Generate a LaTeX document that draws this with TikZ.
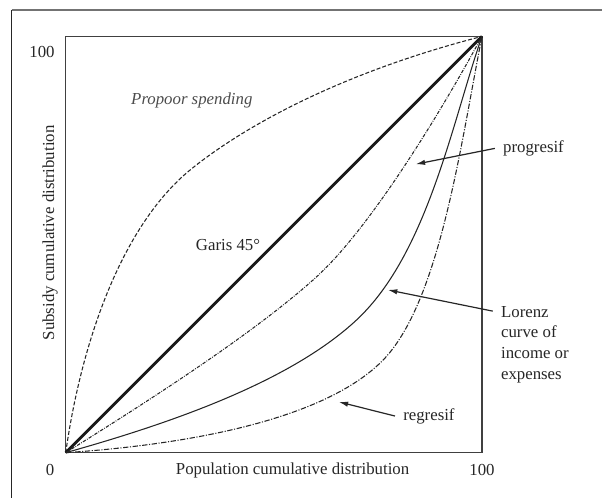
\documentclass[tikz,border=0pt]{standalone}
\usepackage{fontspec}
\setmainfont{Liberation Serif}
\usetikzlibrary{arrows.meta,positioning}

\tikzset{
  lbl/.style={font=\fontsize{12.6}{15.5}\selectfont, text=black!85},
  side/.style={lbl, inner sep=6pt, anchor=west},
  pointer/.style={-{Latex[length=7pt,width=4pt]}, line width=0.9pt, black!85},
  curve/.style={line width=0.8pt, black!85},
}

\begin{document}
\begin{tikzpicture}[x=3.122pt,y=3.122pt]
    \useasboundingbox (-15.78,-10.88) rectangle (128.83,108.74);

    %% frame
    \draw[line width=1pt, black!55] (-12.97,106.34) -- (128.83,106.34);
    \draw[line width=1pt, black!85] (-12.97,-10.88) -- (-12.97,106.34);

    %% box
    \draw[line width=1pt, black!75] (0,0) rectangle (100,100);

    %% curves
    \draw[curve, dash pattern=on 3pt off 1.5pt] (0,0)
        .. controls (4,28) and (14,55) .. (30,68)
        .. controls (42,77.75) and (65,91) .. (100,100);
    \draw[line width=2.2pt, black!90] (0,0) -- (100,100);
    \draw[curve, dash pattern=on 2.5pt off 1pt on 0.6pt off 1pt] (0,0)
        .. controls (20,12.5) and (45,28.5) .. (60,42)
        .. controls (72,52.8) and (88,78) .. (100,100);
    \draw[curve] (0,0)
        .. controls (25,7) and (54,17) .. (70,32)
        .. controls (87,48) and (93,80) .. (100,100);
    \draw[curve, dash pattern=on 4pt off 1.2pt on 0.8pt off 1.2pt] (0,0)
        .. controls (30,2) and (62,8) .. (76,22)
        .. controls (90,36) and (95,75) .. (100,100);

    %% axis labels
    \node[lbl] (ymax) at (-5.69,96.25) {100};
    \node[lbl] (zero) at (-3.77,-4.16) {0};
    \node[lbl] (xmax) at (100,-4.16) {100};
    \node[lbl] (xlab) at (54.5,-4.16) {Population cumulative distribution};
    \node[lbl, rotate=90] (ylab) at (-3.77,52.8) {Subsidy cumulative distribution};

    %% curve labels
    \node[lbl, font=\fontsize{12.6}{15.5}\selectfont\itshape, text=black!70] (propoor) at (30.3,84.7) {Propoor spending};
    \node[lbl] (garis) at (39,49.9) {Garis 45°};

    \coordinate (progtip) at (84.1,69.3);
    \coordinate (lorenztip) at (77.4,39.1);
    \coordinate (regrtip) at (65.6,12.2);

    \node[side] (prog) at (103.1,73.1) {progresif};
    \node[lbl, inner sep=6pt, anchor=north west, align=left] (lorenz) at (102.6,37.2) {Lorenz\\curve of\\income or\\expenses};
    \node[side] (regr) at (79.1,8.8) {regresif};

    \draw[pointer] (prog.west) -- (progtip);
    \draw[pointer] (lorenz.north west) ++(0,-3.2) -- (lorenztip);
    \draw[pointer] (regr.west) -- (regrtip);

\end{tikzpicture}
\end{document}
